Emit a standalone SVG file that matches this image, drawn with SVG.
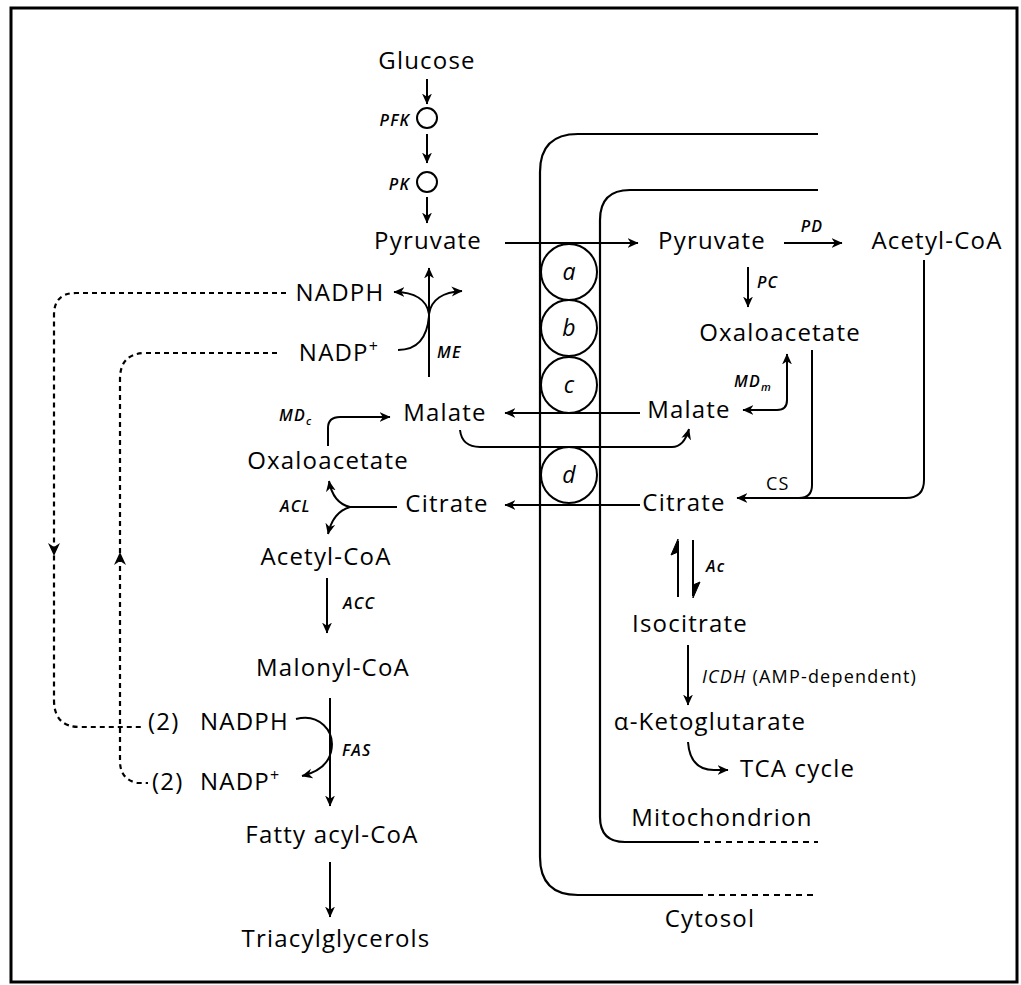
<svg xmlns="http://www.w3.org/2000/svg" width="1021" height="985" viewBox="0 0 1021 985">
<defs>
<marker id="ah" viewBox="0 0 10 10" refX="9.5" refY="5" markerWidth="11" markerHeight="11" markerUnits="userSpaceOnUse" orient="auto-start-reverse">
<path d="M0,0.5 L10,5 L0,9.5 L3,5 z" fill="#000"/>
</marker>
<style>
.t{font-family:"Open Sans","Noto Sans",sans-serif;font-size:24px;font-weight:500;fill:#000;letter-spacing:1.2px}
.s{font-family:"Open Sans","Noto Sans",sans-serif;font-size:16px;font-style:italic;font-weight:600;fill:#000;letter-spacing:1.2px}
.m{font-family:"Open Sans","Noto Sans",sans-serif;font-size:18px;font-weight:500;fill:#000;letter-spacing:1.2px}
.l{font-family:"Open Sans","Noto Sans",sans-serif;font-size:23px;font-style:italic;font-weight:500;fill:#000}
.ln{fill:none;stroke:#000;stroke-width:2}
.ar{fill:none;stroke:#000;stroke-width:2;marker-end:url(#ah)}
.da{fill:none;stroke:#000;stroke-width:2.2;stroke-dasharray:5 4}
.mb{fill:none;stroke:#000;stroke-width:2.2}
</style>
</defs>
<rect x="11" y="8" width="1006" height="974" fill="#fff" stroke="#000" stroke-width="3"/>

<g id="membranes">
<path class="mb" d="M818 134 H578 Q540 134 540 172 V857 Q540 895 578 895 H697"/>
<path class="mb" d="M697 895 H818" stroke-dasharray="6 5"/>
<path class="mb" d="M818 190 H630 Q600 190 600 220 V817 Q600 842 625 842 H693"/>
<path class="mb" d="M693 842 H818" stroke-dasharray="6 5"/>
<text class="t" x="722" y="826" text-anchor="middle">Mitochondrion</text>
<text class="t" x="710" y="927" text-anchor="middle">Cytosol</text>
</g>

<g id="transporters">
<g id="ta"><circle cx="569" cy="272" r="28" class="ln"/><text class="l" x="569" y="280" text-anchor="middle">a</text></g>
<g id="tb"><circle cx="569" cy="328" r="28" class="ln"/><text class="l" x="569" y="336" text-anchor="middle">b</text></g>
<g id="tc"><circle cx="569" cy="385" r="28" class="ln"/><text class="l" x="569" y="393" text-anchor="middle">c</text></g>
<g id="td"><circle cx="569" cy="475" r="28" class="ln"/><text class="l" x="569" y="483" text-anchor="middle">d</text></g>
</g>

<g id="nodes">
<g id="glucose"><text class="t" x="427" y="69" text-anchor="middle">Glucose</text></g>
<g id="pfk"><circle cx="427" cy="118" r="10" class="ln"/><text class="s" x="410" y="126" text-anchor="end">PFK</text></g>
<g id="pk"><circle cx="427" cy="182" r="10" class="ln"/><text class="s" x="410" y="190" text-anchor="end">PK</text></g>
<g id="pyr-c"><text class="t" x="428" y="249" text-anchor="middle">Pyruvate</text></g>
<g id="nadph-top"><text class="t" x="340" y="301" text-anchor="middle">NADPH</text></g>
<g id="nadp-top"><text class="t" x="339" y="361" text-anchor="middle">NADP<tspan font-size="16" dy="-9">+</tspan></text></g>
<g id="malate-c"><text class="t" x="445" y="421" text-anchor="middle">Malate</text></g>
<g id="oaa-c"><text class="t" x="328" y="469" text-anchor="middle">Oxaloacetate</text></g>
<g id="citrate-c"><text class="t" x="447" y="512" text-anchor="middle">Citrate</text></g>
<g id="acoa-c"><text class="t" x="326" y="565" text-anchor="middle">Acetyl-CoA</text></g>
<g id="malcoa"><text class="t" x="333" y="676" text-anchor="middle">Malonyl-CoA</text></g>
<g id="nadph-2"><text class="t" x="148" y="730">(2)</text><text class="t" x="200" y="730">NADPH</text></g>
<g id="nadp-2"><text class="t" x="152" y="790">(2)</text><text class="t" x="200" y="790">NADP<tspan font-size="16" dy="-9">+</tspan></text></g>
<g id="facoa"><text class="t" x="332" y="843" text-anchor="middle">Fatty acyl-CoA</text></g>
<g id="tag"><text class="t" x="336" y="947" text-anchor="middle">Triacylglycerols</text></g>
<g id="pyr-m"><text class="t" x="712" y="249" text-anchor="middle">Pyruvate</text></g>
<g id="acoa-m"><text class="t" x="937" y="249" text-anchor="middle">Acetyl-CoA</text></g>
<g id="oaa-m"><text class="t" x="780" y="341" text-anchor="middle">Oxaloacetate</text></g>
<g id="malate-m"><text class="t" x="689" y="418" text-anchor="middle">Malate</text></g>
<g id="citrate-m"><text class="t" x="684" y="511" text-anchor="middle">Citrate</text></g>
<g id="isocit"><text class="t" x="690" y="632" text-anchor="middle">Isocitrate</text></g>
<g id="akg"><text class="t" x="710" y="730" text-anchor="middle">α-Ketoglutarate</text></g>
<g id="tca"><text class="t" x="740" y="777">TCA cycle</text></g>
</g>

<g id="connectors">
<line class="ar" x1="427" y1="79" x2="427" y2="104"/>
<line class="ar" x1="427" y1="134" x2="427" y2="163"/>
<line class="ar" x1="427" y1="197" x2="427" y2="223"/>
<line class="ar" x1="505" y1="243" x2="638" y2="243"/>
<line class="ar" x1="784" y1="243" x2="842" y2="243"/>
<line class="ar" x1="748" y1="267" x2="748" y2="307"/>
<path class="ar" d="M743 410 H777 Q787 410 787 400 V354" style="marker-start:url(#ah)"/>
<path class="ln" d="M812 350 V485 Q812 498 799 498"/>
<path class="ar" d="M924 260 V480 Q924 498 906 498 H737"/>
<line class="ar" x1="640" y1="413" x2="505" y2="413"/>
<path class="ar" d="M460 430 Q462 447 480 447 H672 Q684 447 689 429"/>
<line class="ar" x1="640" y1="505" x2="505" y2="505"/>
<line class="ar" x1="429" y1="377" x2="429" y2="268"/>
<path class="ar" d="M429 314 C427 300 415 292 394 292"/>
<path class="ar" d="M429 314 C431 300 443 292 462 291"/>
<path class="ln" d="M398 350 C415 350 427 340 429 316"/>
<path class="ar" d="M328 446 V428 Q328 417 340 417 H390"/>
<line class="ln" x1="397" y1="507" x2="349" y2="507"/>
<path class="ar" d="M350 507 Q333 503 329 481"/>
<path class="ar" d="M350 507 Q333 512 328 534"/>
<line class="ar" x1="327" y1="578" x2="327" y2="633"/>
<line class="ar" x1="330" y1="698" x2="330" y2="806"/>
<path class="ar" d="M296 719 C318 713 336 730 331 752 C328 765 318 772 302 776"/>
<line class="ar" x1="330" y1="862" x2="330" y2="917"/>
<line class="ln" x1="678" y1="597" x2="678" y2="541"/>
<path d="M678 539 L671 555 L678 552 z" fill="#000" stroke="#000" stroke-width="1"/>
<line class="ln" x1="693" y1="540" x2="693" y2="596"/>
<path d="M693 598 L700 582 L693 585 z" fill="#000" stroke="#000" stroke-width="1"/>
<line class="ar" x1="688" y1="645" x2="688" y2="705"/>
<path class="ar" d="M688 742 Q690 770 714 770 H728"/>
<path class="da" d="M286 293 H76 Q54 293 54 315 V700 Q54 727 80 727 H144"/>
<path d="M48 543 L54 556 L60 543 L54 547 z" fill="#000"/>
<path class="da" d="M277 353 H146 Q120 353 120 379 V761 Q120 780 138 783 H148"/>
<path d="M114 565 L120 552 L126 565 L120 561 z" fill="#000"/>
</g>

<g id="labels">
<text class="s" x="812" y="232" text-anchor="middle">PD</text>
<text class="s" x="757" y="288">PC</text>
<text class="s" x="734" y="387">MD<tspan font-size="11" dy="4">m</tspan></text>
<text class="s" x="437" y="358">ME</text>
<text class="s" x="279" y="421">MD<tspan font-size="11" dy="4">c</tspan></text>
<text class="s" x="280" y="512">ACL</text>
<text class="s" x="343" y="609">ACC</text>
<text class="s" x="342" y="756">FAS</text>
<text class="m" x="766" y="490">CS</text>
<text class="s" x="706" y="572">Ac</text>
<text class="m" x="702" y="683"><tspan font-style="italic">ICDH</tspan> (AMP-dependent)</text>
</g>
</svg>
